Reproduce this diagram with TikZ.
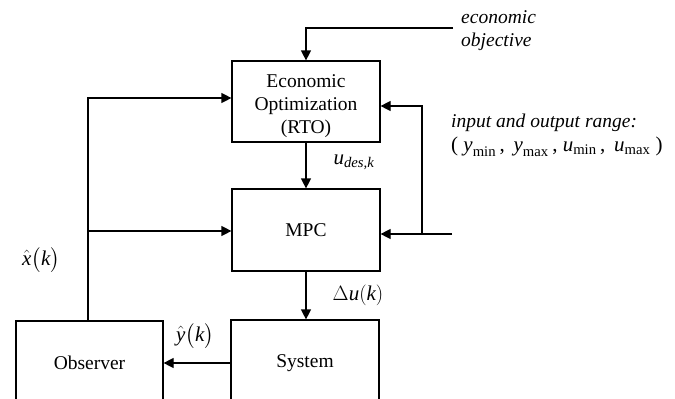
\documentclass[tikz,border=0pt]{standalone}
\usepackage{amsmath}
\usepackage{fontspec}
\setmainfont{Liberation Serif}
\usetikzlibrary{arrows.meta,calc}
\newcommand{\vi}[1]{\text{\itshape #1}}
\tikzset{
  blk/.style={draw, line width=1.2pt, minimum width=148pt, inner sep=0pt, align=center},
  arr/.style={line width=1.2pt, -{Triangle[length=10pt,width=10pt]}},
  lbl/.style={inner sep=0pt},
  mlbl/.style={inner sep=0pt, font=\fontsize{21}{24}\selectfont},
}
\begin{document}
\begin{tikzpicture}[x=1pt,y=-1pt,font=\fontsize{19.5}{23}\selectfont]
\clip (0,0) rectangle (675,399);
\fill[white] (0,0) rectangle (675,399);
% blocks
\node[blk, minimum height=81pt] (rto) at (306,101.5) {};
\node[lbl, align=center] (rtot) at (306,106) {Economic\\Optimization\\(RTO)};
\node[blk, minimum height=82pt] (mpc) at (306,230) {MPC};
\node[blk, minimum height=86pt] (sys) at (305,363) {System};
\node[blk, minimum width=147pt, minimum height=84pt] (obs) at (89.5,363) {Observer};
% external inputs
\coordinate (eo) at (453,28);
\coordinate (rin) at (452,234);
\coordinate (br) at (422,234);
\coordinate (xb) at (88,231);
% connectors
\draw[arr] (eo) -| (rto.north);
\draw[arr] (rto.south) -- (mpc.north);
\draw[arr] (mpc.south) -- (mpc.south |- sys.north);
\draw[arr] (sys.west) -- (obs.east);
\draw[arr] (rin) -- (rin -| mpc.east);
\draw[arr] (br) |- ([yshift=-4.5pt]rto.east);
\draw[arr] (obs.north -| xb) |- ([yshift=3.5pt]rto.west);
\draw[arr] (xb) -- (xb -| mpc.west);
% labels
\node[lbl, anchor=west, align=left, font=\fontsize{19.5}{23}\selectfont\itshape] (eol) at (461,31) {economic\\objective};
\node[lbl, anchor=west] (rng1) at (451,123) {\itshape input and output range:};
\node[mlbl, anchor=west] (rng2) at (451,147) {( $\vi{y}_{\text{min}}$\,,\ \,$\vi{y}_{\text{max}}$\,, $\vi{u}_{\text{min}}$\,,\ \,$\vi{u}_{\text{max}}$ )};
\node[mlbl] (ud) at (354,162) {$\vi{u}_{\vi{des,k}}$};
\node[mlbl] (du) at (358,295) {$\Delta\vi{u}(\vi{k})$};
\node[mlbl] (yh) at (195,336) {$\hat{\vi{y}}\big(\vi{k}\big)$};
\node[mlbl] (xh) at (41,260) {$\hat{\vi{x}}\big(\vi{k}\big)$};
\end{tikzpicture}
\end{document}
